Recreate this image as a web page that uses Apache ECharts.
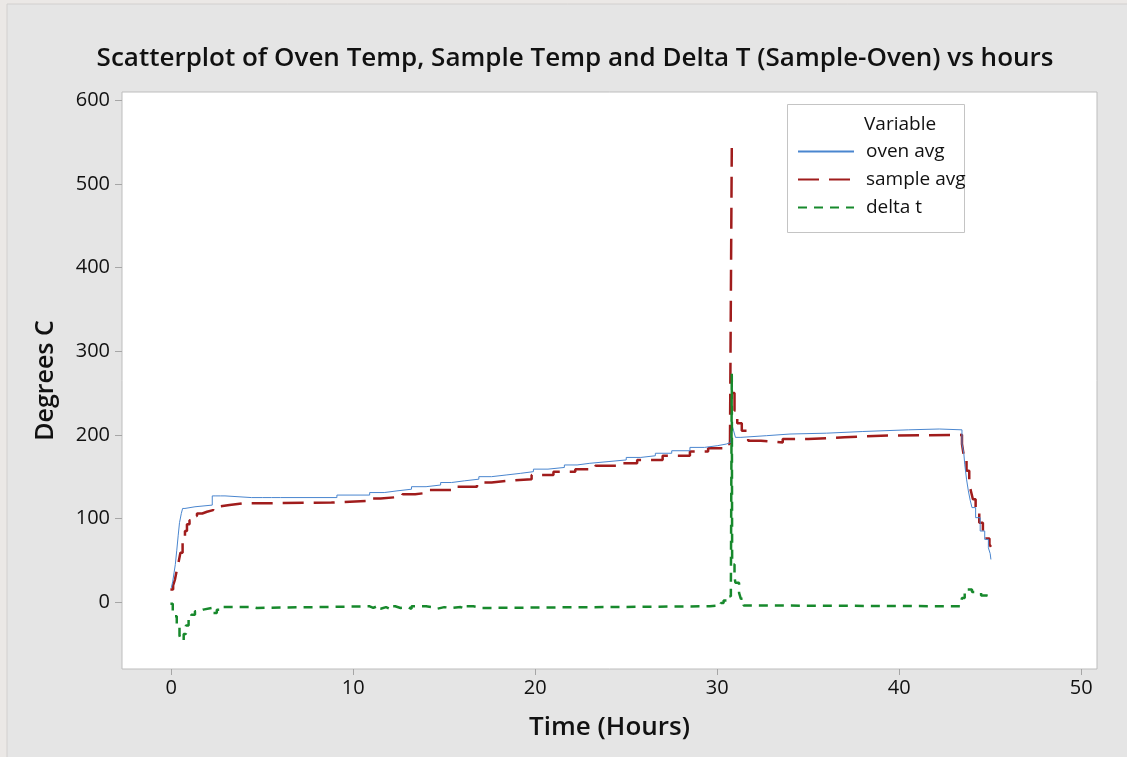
<!DOCTYPE html>
<html>
<head>
<meta charset="utf-8">
<script src="https://cdn.jsdelivr.net/npm/echarts@6/dist/echarts.min.js"></script>
<style>
  html, body { margin: 0; padding: 0; background: #ebe8e6; }
  #chart { width: 1127px; height: 757px; }
</style>
</head>
<body>
<div id="chart"></div>
<script>
// [hours, degrees C] - readings step, so each point holds until the next one
const ovenAvg = [
  [0, 17], [0.08, 25], [0.15, 35], [0.22, 45], [0.3, 62], [0.38, 80], [0.45, 95],
  [0.55, 106], [0.62, 112], [0.75, 114], [1.3, 116], [2.25, 127], [2.45, 125],
  [2.55, 127], [2.7, 125], [2.8, 127], [2.95, 125], [4.4, 127], [4.5, 125],
  [5.0, 127], [5.1, 125], [5.5, 127], [5.6, 125], [6.0, 127], [6.1, 125],
  [9.1, 128], [10.9, 131], [11.7, 133], [12.4, 135], [13.2, 138], [14.0, 140],
  [14.8, 143], [15.4, 145], [16.1, 147], [16.9, 150], [17.6, 152], [18.4, 154],
  [19.2, 156], [19.9, 159], [20.7, 161], [21.6, 164], [22.3, 166], [23.0, 168],
  [24.0, 170], [25.0, 173], [25.8, 175], [26.6, 178], [27.5, 181], [28.5, 185],
  [29.3, 187], [30.0, 189], [30.5, 191], [30.75, 200], [30.82, 211], [30.9, 205],
  [31.0, 197], [31.3, 199], [32.7, 201], [34.0, 202], [36.0, 204], [38.0, 206],
  [40.5, 207], [42.2, 206], [43.45, 189], [43.55, 178], [43.6, 165], [43.7, 147],
  [43.8, 133], [43.9, 122], [44.0, 113], [44.2, 101], [44.45, 85], [44.7, 75],
  [44.9, 65], [45.0, 58], [45.04, 51]
]

// the drop back from the 543 reading runs down the same vertical, so it is left as a gap
const sampleAvg = [
  [-0.05, 15], [0.1, 20], [0.2, 27], [0.3, 38], [0.4, 48], [0.5, 59], [0.62, 75],
  [0.75, 85], [0.86, 93], [1.0, 98], [1.2, 103], [1.41, 106], [1.7, 108],
  [1.96, 110], [2.3, 114], [2.5, 116], [3.2, 118], [3.9, 119], [8.8, 121],
  [10.75, 124], [11.5, 126], [12.7, 129], [13.4, 131], [14.2, 134], [15.5, 138],
  [16.8, 143], [17.6, 145], [18.5, 147], [19.8, 152], [21.0, 156], [22.2, 159],
  [23.3, 163], [24.8, 166], [25.6, 170], [27.0, 175], [28.5, 180], [29.5, 184],
  [30.35, 189], [30.7, 191], [30.8, 543], [30.8, '-'], [30.82, 250], [30.95, 229],
  [31.1, 214], [31.35, 205], [31.7, 193], [32.4, 191], [33.6, 195], [35.0, 197],
  [37.0, 199], [39.0, 200], [43.45, 189], [43.55, 175], [43.7, 157], [43.85, 141],
  [43.95, 132], [44.05, 123], [44.2, 111], [44.4, 95], [44.6, 85], [44.8, 76],
  [44.96, 69], [45.04, 66]
]

const deltaT = [
  [-0.05, -2], [0.08, -10], [0.15, -17], [0.3, -30], [0.45, -40], [0.55, -46],
  [0.68, -38], [0.8, -28], [0.95, -20], [1.1, -15], [1.3, -11], [1.5, -9],
  [1.75, -7], [2.25, -13], [2.5, -9], [2.7, -6], [4.5, -5], [4.6, -7], [4.7, -5],
  [10.9, -7], [11.1, -5], [11.3, -8], [11.5, -6], [11.8, -8], [12.0, -5],
  [12.3, -7], [12.6, -6], [13.0, -8], [13.2, -5], [14.0, -6], [14.3, -8],
  [14.6, -6], [15.0, -7], [15.4, -6], [15.9, -8], [16.2, -5], [16.6, -7],
  [17.1, -5], [29.6, -4], [30.2, -1], [30.35, 2], [30.6, 7], [30.75, 15],
  [30.8, 273], [30.82, 45], [30.95, 30], [31.0, 23], [31.2, 11], [31.3, 4],
  [31.45, -4], [31.6, -5], [43.35, -5], [43.45, 5], [43.6, 15], [44.0, 12],
  [44.2, 11], [44.5, 8], [44.8, 6], [45.04, 6]
]

const seriesNames = ['oven avg', 'sample avg', 'delta t']
const xTicks = [0, 10, 20, 30, 40, 50]
const yTicks = [0, 100, 200, 300, 400, 500, 600]

const FONT = 'Open Sans'
const chart = echarts.init(document.getElementById('chart'))

chart.setOption({
  backgroundColor: '#ebe8e6',
  animation: false,
  title: {
    text: 'Scatterplot of Oven Temp, Sample Temp and Delta T (Sample-Oven) vs hours',
    left: 570,
    textAlign: 'center',
    top: 41,
    textStyle: { fontFamily: FONT, fontSize: 26, fontWeight: 600, color: '#111' }
  },
  graphic: [
    {
      type: 'rect', z: -5, silent: true,
      shape: { x: 7, y: 4, width: 1130, height: 760 },
      style: { fill: '#e5e5e5', stroke: '#d2d0cf', lineWidth: 1 }
    },
    {
      type: 'rect', z: 5, silent: true,
      shape: { x: 787.5, y: 104.5, width: 177, height: 128 },
      style: { fill: '#fff', stroke: '#c4c4c4', lineWidth: 1 }
    },
    {
      type: 'text', z: 6, silent: true,
      left: 864, top: 115,
      style: { text: 'Variable', font: '500 19px "' + FONT + '"', fill: '#111' }
    }
  ],
  legend: {
    data: seriesNames,
    orient: 'vertical',
    left: 797,
    top: 142,
    padding: 0,
    itemWidth: 56,
    itemHeight: 18,
    itemGap: 9,
    z: 10,
    itemStyle: { opacity: 0 },
    textStyle: { fontFamily: FONT, fontSize: 19, fontWeight: 500, color: '#111', padding: [0, 0, 0, 7] }
  },
  grid: {
    left: 122, right: 30, top: 92, bottom: 88,
    show: true, backgroundColor: '#fff', borderColor: '#bdbdbd', borderWidth: 1
  },
  xAxis: {
    type: 'value',
    min: -2.71, max: 50.87,
    name: 'Time (Hours)',
    nameLocation: 'middle',
    nameGap: 46,
    nameTextStyle: { fontFamily: FONT, fontSize: 26, fontWeight: 600, color: '#111' },
    axisLine: { show: false, onZero: false },
    splitLine: { show: false },
    axisTick: { show: true, length: 6, customValues: xTicks, lineStyle: { color: '#a6a6a6' } },
    axisLabel: { customValues: xTicks, margin: 9, fontFamily: FONT, fontSize: 20, fontWeight: 500, color: '#111' }
  },
  yAxis: {
    type: 'value',
    min: -80, max: 610,
    name: 'Degrees C',
    nameLocation: 'middle',
    nameGap: 64,
    nameTextStyle: { fontFamily: FONT, fontSize: 25, fontWeight: 600, color: '#111' },
    axisLine: { show: false, onZero: false },
    splitLine: { show: false },
    axisTick: { show: true, length: 7, customValues: yTicks, lineStyle: { color: '#a6a6a6' } },
    axisLabel: { customValues: yTicks, margin: 12, fontFamily: FONT, fontSize: 20, fontWeight: 500, color: '#111' }
  },
  series: [
    {
      name: seriesNames[0], type: 'line', step: 'end', symbol: 'none',
      data: ovenAvg, z: 3,
      lineStyle: { color: '#4a86cf', width: 1 }, itemStyle: { color: '#4a86cf' }
    },
    {
      name: seriesNames[1], type: 'line', step: 'end', symbol: 'none',
      data: sampleAvg, z: 2, connectNulls: false,
      lineStyle: { color: '#a01c1c', width: 2.5, type: [21, 10] }, itemStyle: { color: '#a01c1c' }
    },
    {
      name: seriesNames[2], type: 'line', step: 'end', symbol: 'none',
      data: deltaT, z: 4,
      lineStyle: { color: '#17892c', width: 2.5, type: [9, 7] }, itemStyle: { color: '#17892c' }
    }
  ]
})
</script>
</body>
</html>
